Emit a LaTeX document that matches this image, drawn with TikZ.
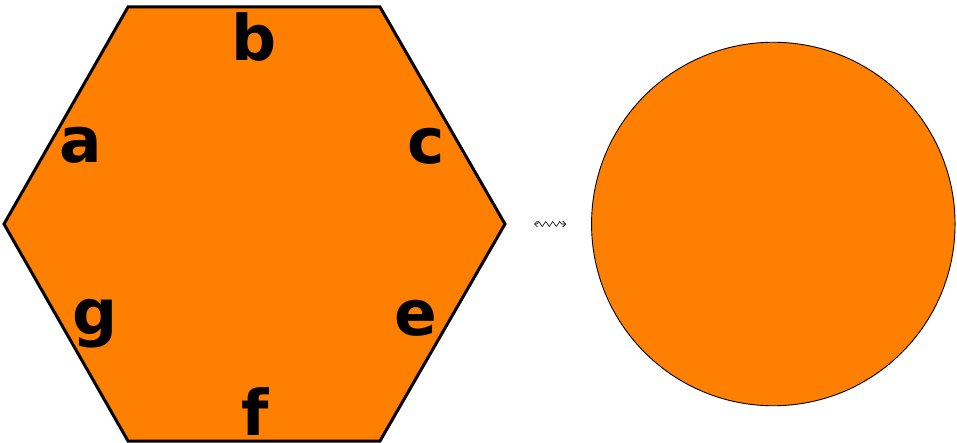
\documentclass[tikz,border=0pt]{standalone}
\usepackage{fontspec}
\newfontfamily\labfont{DejaVu Sans}
\usetikzlibrary{decorations.pathmorphing,arrows.meta}
\definecolor{hexorange}{RGB}{255,128,0}
\tikzset{
  shapefill/.style={fill=hexorange},
  hexline/.style={draw=black, line width=3pt, line join=miter},
  circline/.style={draw=black, line width=0.9pt},
  lab/.style={font=\labfont\bfseries\fontsize{63}{63}\selectfont, anchor=base, inner sep=0pt},
  squig/.style={draw=black, line width=0.6pt, decorate,
    decoration={zigzag, amplitude=2.5pt, segment length=7pt, pre length=3pt, post length=3pt},
    {Straight Barb[length=3pt,width=6pt]}-{Straight Barb[length=3pt,width=6pt]}}
}
\begin{document}
\begin{tikzpicture}[x=1pt,y=-1pt]
\useasboundingbox (0,0) rectangle (957,443);
\path[shapefill, hexline] (128,7) -- (380,7) -- (505,224) -- (380,441) -- (128,441) -- (4,224) -- cycle;
\node[lab] (a) at (81,163) {a};
\node[lab] (b) at (254,61) {b};
\node[lab] (c) at (426,164) {c};
\node[lab] (g) at (95,334) {g};
\node[lab] (e) at (416,335) {e};
\node[lab] (f) at (255,435) {f};
\node[circle, shapefill, circline, minimum size=363.5pt, inner sep=0pt] (circ) at (773.3,224) {};
\coordinate (sl) at (534,224);
\coordinate (sr) at (566,224);
\draw[squig] (sl) -- (sr);
\end{tikzpicture}
\end{document}
